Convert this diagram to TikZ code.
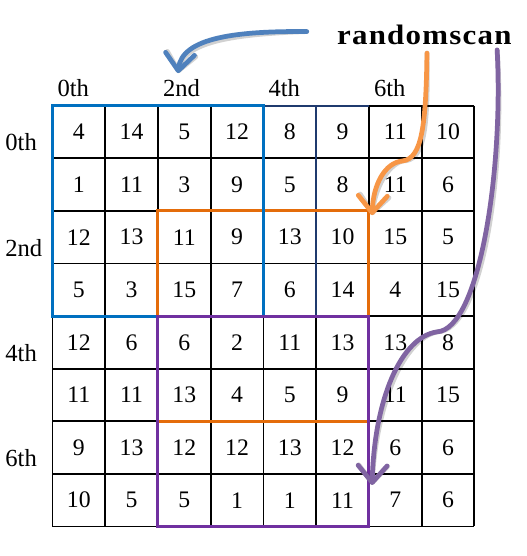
\documentclass[tikz,border=0pt]{standalone}
\usepackage{fontspec}
\setmainfont{Liberation Serif}
\newfontfamily\scanfont[LetterSpace=4]{Liberation Serif}
\usetikzlibrary{arrows.meta}
\definecolor{boxblue}{HTML}{0070C0}
\definecolor{boxorange}{HTML}{E46C0A}
\definecolor{boxpurple}{HTML}{7030A0}
\definecolor{navyline}{HTML}{1F3A6E}
\definecolor{arrowblue}{HTML}{4F81BD}
\definecolor{arroworange}{HTML}{F79646}
\definecolor{arrowpurple}{HTML}{8064A2}
\tikzset{
    cellnum/.style={font=\fontsize{13.5}{15}\selectfont, inner sep=0pt},
    idxlabel/.style={font=\fontsize{14}{16}\selectfont, anchor=base west, inner sep=0pt},
    gridline/.style={line width=1.1pt},
    region/.style={draw=#1, line width=1.7pt},
    scanarrow/.style={draw=#1, line width=2.7pt, line cap=round,
        -{Straight Barb[length=0.34cm, width=0.58cm, round]}},
    arrowshadow/.style={scanarrow=black, draw opacity=0.18, xshift=0.05cm, yshift=-0.06cm}
}

\begin{document}
\begin{tikzpicture}[x=1.055cm, y=-1.052cm]
    \useasboundingbox (-0.995,-2.01) rectangle (8.995,8.561);

    % Grid lines
    \foreach \i in {0,...,8} {
        \draw[gridline] (\i,0) -- (\i,8);
        \draw[gridline] (0,\i) -- (8,\i);
    }
    \draw[gridline, draw=navyline] (4,0) -- (6,0) (5,0) -- (5,4);

    % Cell values
    \foreach \vals [count=\r from 0] in {{4,14,5,12,8,9,11,10},{1,11,3,9,5,8,11,6},
        {12,13,11,9,13,10,15,5},{5,3,15,7,6,14,4,15},{12,6,6,2,11,13,13,8},
        {11,11,13,4,5,9,11,15},{9,13,12,12,13,12,6,6},{10,5,5,1,1,11,7,6}} {
        \foreach \v [count=\c from 0] in \vals
            \node[cellnum] (c\r-\c) at (\c+0.5,\r+0.5) {\v};
    }

    % Row and column indices
    \foreach \k/\t in {0/0th, 2/2nd, 4/4th, 6/6th} {
        \node[idxlabel] (col\k) at (\k+0.09,-0.17) {\t};
        \node[idxlabel] (row\k) at (-0.90,\k+0.86) {\t};
    }

    % Scan windows
    \draw[region=boxorange] (2,2) rectangle (6,6);
    \draw[region=boxblue] (0,0) rectangle (4,4);
    \draw[region=boxpurple] (2,4) rectangle (6,8);

    % Title
    \node[anchor=base west, inner sep=0pt, xscale=1.1, font=\scanfont\fontsize{16}{18}\bfseries] (scan) at (5.39,-1.17) {randomscan};

    % Scan arrows
    \coordinate (blue start) at (4.82,-1.41);
    \coordinate (blue end) at (2.38,-0.62);
    \coordinate (orange start) at (7.10,-1.00);
    \coordinate (orange bend) at (6.64,1.05);
    \coordinate (orange end) at (6.06,2.08);
    \coordinate (purple start) at (8.43,-1.06);
    \coordinate (purple bend) at (7.29,4.30);
    \coordinate (purple end) at (6.06,7.21);

    \draw[arrowshadow] (blue start) .. controls (3.5,-1.42) and (2.45,-1.3) .. (blue end);
    \draw[scanarrow=arrowblue] (blue start) .. controls (3.5,-1.42) and (2.45,-1.3) .. (blue end);
    \draw[arrowshadow] (orange start) .. controls (7.08,0.4) and (7.0,1.0) .. (orange bend)
        .. controls (6.3,1.08) and (6.08,1.5) .. (orange end);
    \draw[scanarrow=arroworange] (orange start) .. controls (7.08,0.4) and (7.0,1.0) .. (orange bend)
        .. controls (6.3,1.08) and (6.08,1.5) .. (orange end);
    \draw[arrowshadow] (purple start) .. controls (8.55,1.2) and (8.1,4.25) .. (purple bend)
        .. controls (6.6,4.4) and (6.1,5.6) .. (purple end);
    \draw[scanarrow=arrowpurple] (purple start) .. controls (8.55,1.2) and (8.1,4.25) .. (purple bend)
        .. controls (6.6,4.4) and (6.1,5.6) .. (purple end);
\end{tikzpicture}
\end{document}
